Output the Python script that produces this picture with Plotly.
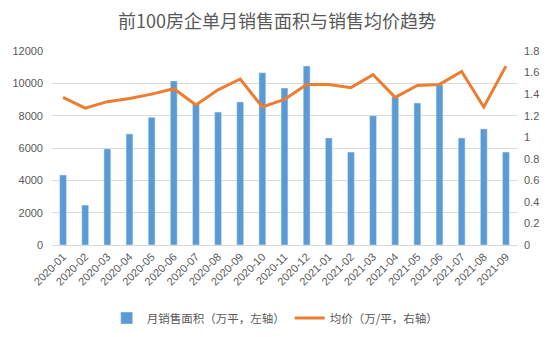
import plotly.graph_objects as go

months = ["2020-01","2020-02","2020-03","2020-04","2020-05","2020-06","2020-07","2020-08",
          "2020-09","2020-10","2020-11","2020-12","2021-01","2021-02","2021-03","2021-04",
          "2021-05","2021-06","2021-07","2021-08","2021-09"]
area = [4330, 2470, 5950, 6870, 7900, 10150, 8750, 8220, 8850, 10650, 9710, 11070,
        6620, 5750, 8000, 9170, 8780, 9900, 6620, 7180, 5750]
price = [1.37, 1.27, 1.33, 1.36, 1.40, 1.45, 1.30, 1.44, 1.54, 1.28, 1.35, 1.49,
         1.49, 1.46, 1.58, 1.37, 1.48, 1.49, 1.61, 1.28, 1.66]
left_ticks = [0, 2000, 4000, 6000, 8000, 10000, 12000]
right_ticks = [0, 0.2, 0.4, 0.6, 0.8, 1, 1.2, 1.4, 1.6, 1.8]

grey = "#595959"
fig = go.Figure()
fig.add_trace(go.Bar(x=months, y=area, name="月销售面积（万平，左轴）",
                     marker_color="#5B9BD5", yaxis="y"))
fig.add_trace(go.Scatter(x=months, y=price, name="均价（万/平，右轴）", mode="lines",
                         line=dict(color="#ED7D31", width=3), yaxis="y2"))

fig.update_layout(
    width=554, height=337,
    margin=dict(l=48, r=37, t=51, b=92),
    paper_bgcolor="white", plot_bgcolor="white",
    font=dict(family="Noto Sans CJK SC, Liberation Sans, sans-serif", color=grey, size=11),
    title=dict(text="前100房企单月销售面积与销售均价趋势", x=0.5, xanchor="center",
               y=1 - 22 / 337, yanchor="middle", yref="container",
               font=dict(size=18, color=grey, family="Noto Sans CJK SC")),
    bargap=0.69,
    showlegend=True,
    legend=dict(orientation="h", x=0.48, xanchor="center", yref="container",
                y=1 - 318 / 337, yanchor="middle", font=dict(size=11.5, color=grey),
                itemwidth=30, traceorder="normal"),
    xaxis=dict(type="category", tickangle=-45, showline=True, linecolor="#D9D9D9", linewidth=1,
               tickfont=dict(size=11, color=grey, family="Liberation Sans"),
               showgrid=False, ticks="", tickmode="array", tickvals=months, ticktext=months),
    yaxis=dict(range=[0, 12000], tickvals=left_ticks, tickformat="d", showgrid=True,
               gridcolor="#D9D9D9", gridwidth=1, zeroline=False, ticks="", ticklabelstandoff=8,
               tickfont=dict(size=11, color=grey, family="Liberation Sans")),
    yaxis2=dict(range=[0, 1.8], tickvals=right_ticks, overlaying="y", side="right",
                showgrid=False, zeroline=False, ticks="", ticklabelstandoff=6,
                tickfont=dict(size=11, color=grey, family="Liberation Sans")),
)
fig.write_html("out.html")
